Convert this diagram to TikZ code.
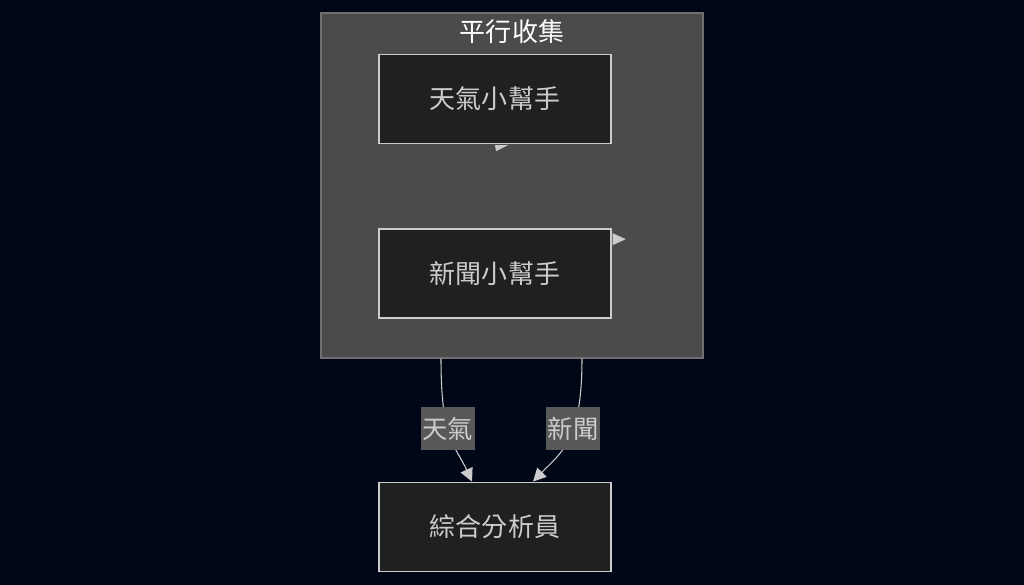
\documentclass[tikz,border=0pt]{standalone}
\usepackage{fontspec}
\setmainfont{Noto Sans CJK TC}
\usepackage{xcolor}
\usepackage{tikz}
\usetikzlibrary{arrows.meta,positioning,calc}

\definecolor{bgnavy}{RGB}{0,7,23}
\definecolor{grpgray}{RGB}{74,75,74}
\definecolor{grpline}{RGB}{112,112,112}
\definecolor{boxfill}{RGB}{31,32,32}
\definecolor{boxline}{RGB}{204,204,204}
\definecolor{lblfill}{RGB}{88,88,88}

\begin{document}
\begin{tikzpicture}[node distance=1.68cm,
  agent/.style={rectangle, draw=boxline, line width=0.8pt, fill=boxfill, text=boxline, minimum width=4.64cm, minimum height=1.78cm, inner sep=0pt, font=\fontsize{14.8}{18}\selectfont},
  group/.style={rectangle, draw=grpline, line width=0.6pt, fill=grpgray, minimum width=7.64cm, minimum height=6.9cm, inner sep=0pt},
  title/.style={text=white, font=\fontsize{14.8}{18}\selectfont},
  lbl/.style={anchor=center, fill=lblfill, text=boxline, inner xsep=1pt, inner ysep=5.5pt, font=\fontsize{14.4}{17}\selectfont},
  line/.style={draw=boxline, line width=0.6pt, -{Triangle[length=2.6mm, width=2.6mm]}}]

  \fill[bgnavy] (0,0) rectangle (20.48,11.7);
  \useasboundingbox (0,0) rectangle (20.48,11.7);

  % subgraph
  \node [group] (grp) at (10.24,7.99) {};
  \node [title] (grptitle) at ([yshift=-0.38cm]grp.north) {平行收集};

  \node [agent] (weather) at ($(grp.north)+(-0.34,-1.73)$) {天氣小幫手};
  \node [agent, below=of weather] (news) {新聞小幫手};
  \node [agent, below=3.26cm of news] (analyst) {綜合分析員};

  % stray arrow tips
  \fill [boxline] ($(weather.south)+(0,-0.02)$) -- ++(0.26,0) -- ($(weather.south)+(0.02,-0.14)$) -- cycle;
  \fill [boxline] ($(news.north east)+(0.02,-0.10)$) -- ($(news.north east)+(0.28,-0.22)$) -- ($(news.north east)+(0.02,-0.34)$) -- cycle;

  \path [line] ([xshift=-1.42cm]grp.south) .. controls +(0,-1.64) and +(-0.34,0.74) .. ([xshift=-0.46cm]analyst.north) node [lbl, pos=0.42] {天氣};
  \path [line] ([xshift=1.40cm]grp.south) .. controls +(0,-1.64) and +(0.58,0.6) .. ([xshift=0.76cm]analyst.north) node [lbl, pos=0.4] {新聞};
\end{tikzpicture}
\end{document}
